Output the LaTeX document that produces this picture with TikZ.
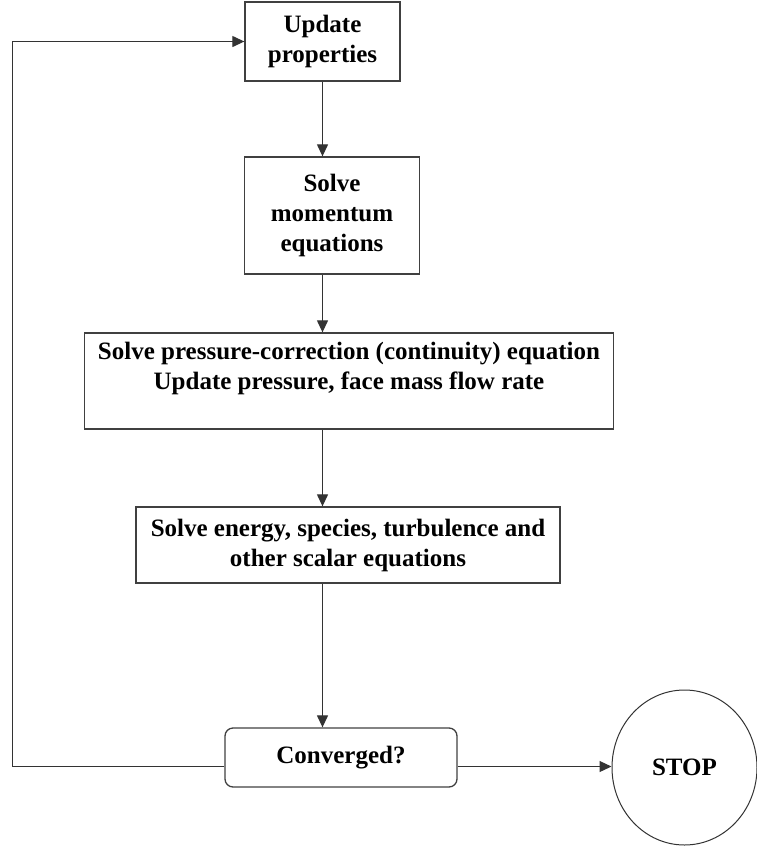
\documentclass[tikz,border=0pt]{standalone}
\usepackage{fontspec}
\setmainfont{Liberation Serif}
\usetikzlibrary{shapes.geometric, arrows.meta}

\begin{document}
\begin{tikzpicture}[
    x=1pt, y=-1pt,
    font=\fontsize{25}{30}\selectfont\bfseries,
    % 1. Boxes
    blk/.style={draw=black!75, line width=1.3pt, inner sep=0pt, align=center},
    rnd/.style={blk, rounded corners=8pt},
    endc/.style={ellipse, draw=black!80, line width=1pt, inner sep=0pt, minimum width=145pt, minimum height=155pt},
    % 2. Connectors
    arr/.style={draw=black!80, line width=1.2pt, -{Triangle[length=12pt,width=11pt]}}
]
\useasboundingbox (0,0) rectangle (757,847);

% ===============================
% Main loop
% ===============================
\node[blk, minimum width=155pt, minimum height=79pt] (upd) at (322.5, 41.5) {Update\\properties};
\node[blk, minimum width=175pt, minimum height=117pt] (mom) at (332, 215.5) {Solve\\momentum\\equations};
\node[blk, minimum width=529pt, minimum height=96pt] (pcor) at (349, 381) {Solve pressure-correction (continuity) equation\\Update pressure, face mass flow rate\\\mbox{}};
\node[blk, minimum width=424pt, minimum height=76pt] (scal) at (348, 545) {Solve energy, species, turbulence and\\other scalar equations};
\node[rnd, minimum width=232pt, minimum height=59pt] (conv) at (341, 757.5) {Converged?};
\node[endc] (stop) at (684.5, 767.5) {STOP};

% Downward flow, all on the axis of the first box
\draw[arr] (upd.south) -- (upd.south |- mom.north);
\draw[arr] (mom.south -| upd.south) -- (pcor.north -| upd.south);
\draw[arr] (pcor.south -| upd.south) -- (scal.north -| upd.south);
\draw[arr] (scal.south -| upd.south) -- (conv.north -| upd.south);

% Not converged: back to the top
\draw[arr] ([yshift=-9pt]conv.west) -- ++(-212,0) |- (upd.west);

% Converged: stop
\draw[arr] ([yshift=-9pt]conv.east) -- ([yshift=-9pt]conv.east -| stop.west);

\end{tikzpicture}
\end{document}
